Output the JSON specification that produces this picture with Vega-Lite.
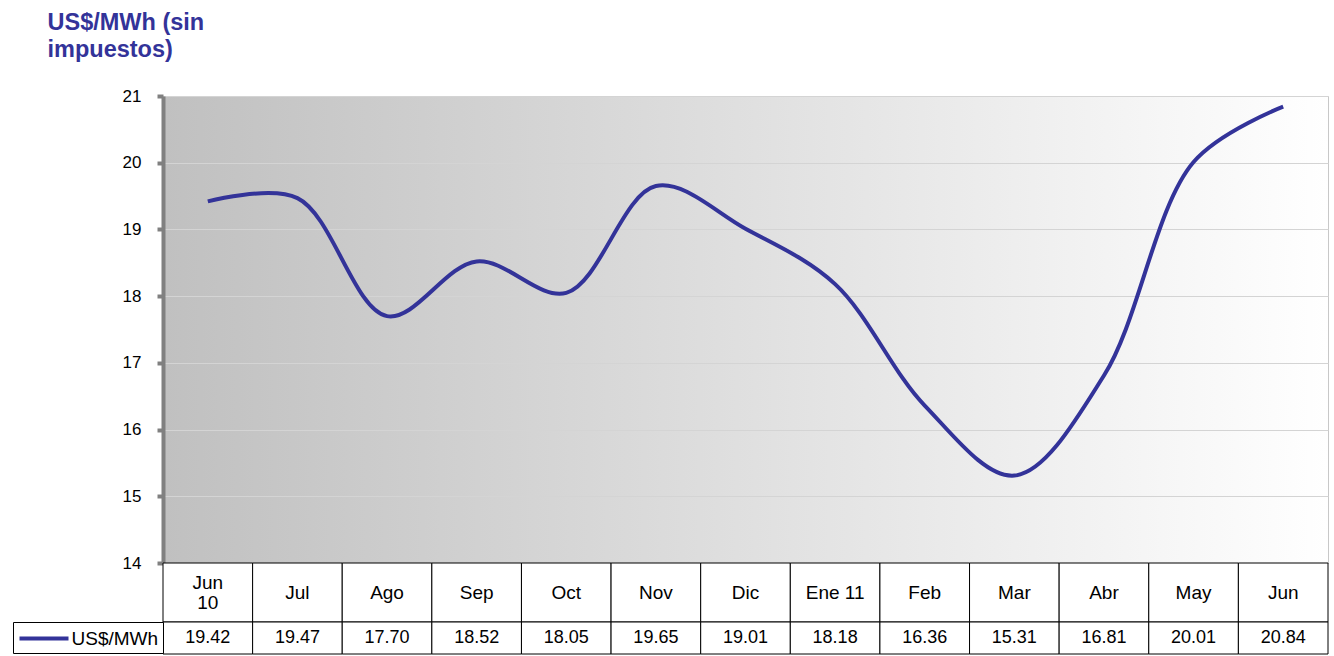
{
  "$schema": "https://vega.github.io/schema/vega-lite/v6.json",
  "padding": {"left": 12, "top": 9, "right": 6, "bottom": 0},
  "config": {"font": "Liberation Sans", "view": {"stroke": null}},
  "data": {"values": [
    {"mes": "Jun\n10", "valor": 19.42},
    {"mes": "Jul", "valor": 19.47},
    {"mes": "Ago", "valor": 17.70},
    {"mes": "Sep", "valor": 18.52},
    {"mes": "Oct", "valor": 18.05},
    {"mes": "Nov", "valor": 19.65},
    {"mes": "Dic", "valor": 19.01},
    {"mes": "Ene 11", "valor": 18.18},
    {"mes": "Feb", "valor": 16.36},
    {"mes": "Mar", "valor": 15.31},
    {"mes": "Abr", "valor": 16.81},
    {"mes": "May", "valor": 20.01},
    {"mes": "Jun", "valor": 20.84}
  ]},
  "spacing": 0,
  "bounds": "flush",
  "resolve": {
    "scale": {"x": "independent", "stroke": "independent"},
    "legend": {"stroke": "independent"}
  },
  "vconcat": [
    {
      "width": 1165,
      "height": 467,
      "view": {
        "stroke": "#c8c8c8",
        "fill": {"gradient": "linear", "x1": 0, "y1": 0, "x2": 1, "y2": 0,
          "stops": [{"offset": 0, "color": "#c0c0c0"}, {"offset": 1, "color": "#ffffff"}]}
      },
      "mark": {"type": "line", "interpolate": "catmull-rom", "color": "#333399", "strokeWidth": 4},
      "encoding": {
        "x": {"field": "mes", "type": "ordinal", "sort": null, "scale": {"type": "point", "padding": 0.5}, "axis": null},
        "y": {
          "field": "valor", "type": "quantitative",
          "scale": {"domain": [14, 21], "nice": false, "zero": false},
          "axis": {
            "values": [14, 15, 16, 17, 18, 19, 20, 21],
            "grid": true, "gridColor": "#d4d4d4", "gridWidth": 1,
            "domainColor": "#808080", "domainWidth": 4,
            "tickColor": "#808080", "tickWidth": 4, "tickSize": 6,
            "labelFontSize": 17, "labelColor": "black", "labelPadding": 16,
            "title": ["US$/MWh (sin", "impuestos)"],
            "titleAngle": 0, "titleAlign": "left", "titleBaseline": "alphabetic",
            "titleX": -116, "titleY": -67,
            "titleFontSize": 23.5, "titleFontWeight": "bold", "titleColor": "#333399",
            "titleLineHeight": 27
          }
        }
      }
    },
    {
      "width": 1165,
      "height": 59,
      "layer": [
        {
          "mark": {"type": "rect", "fill": "white", "stroke": "black", "strokeWidth": 1},
          "encoding": {
            "x": {"field": "mes", "type": "ordinal", "sort": null, "scale": {"paddingInner": 0, "paddingOuter": 0}, "axis": null}
          }
        },
        {
          "transform": [{"filter": "indexof(datum.mes, '\\n') < 0"}],
          "mark": {"type": "text", "fontSize": 19, "color": "black"},
          "encoding": {
            "x": {"field": "mes", "type": "ordinal", "sort": null, "axis": null},
            "text": {"field": "mes"}
          }
        },
        {
          "transform": [{"filter": "indexof(datum.mes, '\\n') >= 0"}],
          "mark": {"type": "text", "fontSize": 19, "lineBreak": "\n", "lineHeight": 20, "dy": -10, "color": "black"},
          "encoding": {
            "x": {"field": "mes", "type": "ordinal", "sort": null, "axis": null},
            "text": {"field": "mes"}
          }
        }
      ]
    },
    {
      "width": 1165,
      "height": 32,
      "layer": [
        {
          "mark": {"type": "rect", "fill": "white", "stroke": "black", "strokeWidth": 1},
          "encoding": {
            "x": {"field": "mes", "type": "ordinal", "sort": null, "scale": {"paddingInner": 0, "paddingOuter": 0}, "axis": null}
          }
        },
        {
          "transform": [{"filter": "datum.mes == 'Jul'"}],
          "mark": {"type": "line", "strokeWidth": 4, "strokeCap": "butt"},
          "encoding": {
            "x": {"field": "mes", "type": "ordinal", "sort": null, "axis": null},
            "stroke": {
              "datum": "US$/MWh",
              "scale": {"range": ["#333399"]},
              "legend": {
                "orient": "left", "title": null, "offset": 0, "padding": 4.5,
                "strokeColor": "black", "fillColor": "white",
                "symbolType": "M-1,0H3.9", "symbolStrokeWidth": 4,
                "symbolSize": 400,
                "labelFontSize": 19, "labelColor": "black", "labelOffset": 30
              }
            }
          }
        },
        {
          "mark": {"type": "text", "fontSize": 18, "color": "black"},
          "encoding": {
            "x": {"field": "mes", "type": "ordinal", "sort": null, "axis": null},
            "text": {"field": "valor", "type": "quantitative", "format": ".2f"}
          }
        }
      ]
    }
  ]
}
